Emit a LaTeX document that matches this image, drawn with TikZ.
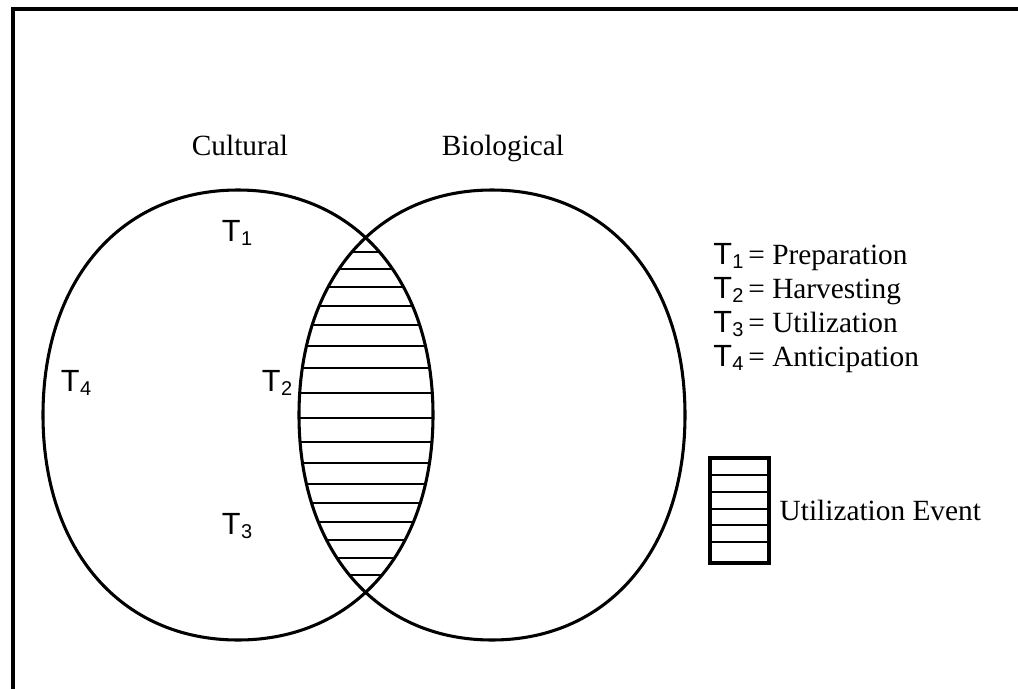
\documentclass[tikz,border=0pt]{standalone}
\usepackage{fontspec}
\setmainfont{Liberation Serif}
\setsansfont{Liberation Sans}
\newcommand{\tsym}[1]{{\sffamily\fontsize{23}{24}\selectfont T\kern0.3pt\raisebox{-3pt}{\fontsize{15}{15}\selectfont #1}}}
\newcommand{\leftring}{(43,415) .. controls (43,280) and (121,190) .. (238,190)
  .. controls (355,190) and (433,280) .. (433,415)
  .. controls (433,550) and (355,640) .. (238,640)
  .. controls (121,640) and (43,550) .. (43,415) -- cycle}
\newcommand{\rightring}{(299,415) .. controls (299,280) and (376,190) .. (492,190)
  .. controls (608,190) and (685,280) .. (685,415)
  .. controls (685,550) and (608,640) .. (492,640)
  .. controls (376,640) and (299,550) .. (299,415) -- cycle}
\begin{document}
\begin{tikzpicture}[x=0.75pt,y=-0.75pt,font=\fontsize{22}{26}\selectfont,
  ring/.style={line width=2.3pt},
  hatch/.style={line width=1.5pt},
  legend/.style={anchor=base west,inner sep=0pt}]
  \useasboundingbox (0,0) rectangle (1018,689);
  \draw[line width=3pt] (1022,9) -- (13,9) -- (13,693);
  % hatched overlap
  \begin{scope}
    \clip \leftring;
    \clip \rightring;
    \foreach \y in {252,269,287,306,325,346,368,393,418,442,463,484,503,522,540,558,575}
      \draw[hatch] (290,\y) -- (440,\y);
  \end{scope}
  \draw[ring] \leftring;
  \draw[ring] \rightring;
  \node[anchor=base] (cultural) at (240,155) {Cultural};
  \node[anchor=base] (biological) at (503,155) {Biological};
  \node (t1) at (237,233) {\tsym{1}};
  \node (t2) at (277,383) {\tsym{2}};
  \node (t3) at (237,526) {\tsym{3}};
  \node (t4) at (76,383) {\tsym{4}};
  % legend
  \node[legend] (l1) at (713,264) {\tsym{1}\,= Preparation};
  \node[legend] (l2) at (713,298) {\tsym{2}\,= Harvesting};
  \node[legend] (l3) at (713,332) {\tsym{3}\,= Utilization};
  \node[legend] (l4) at (713,366) {\tsym{4}\,= Anticipation};
  \draw[line width=2.3pt] (710,458) rectangle (769,563);
  \foreach \y in {475,492,509,525,542}
    \draw[hatch] (710,\y) -- (769,\y);
  \node[anchor=west] (event) at (775,510) {Utilization Event};
\end{tikzpicture}
\end{document}
